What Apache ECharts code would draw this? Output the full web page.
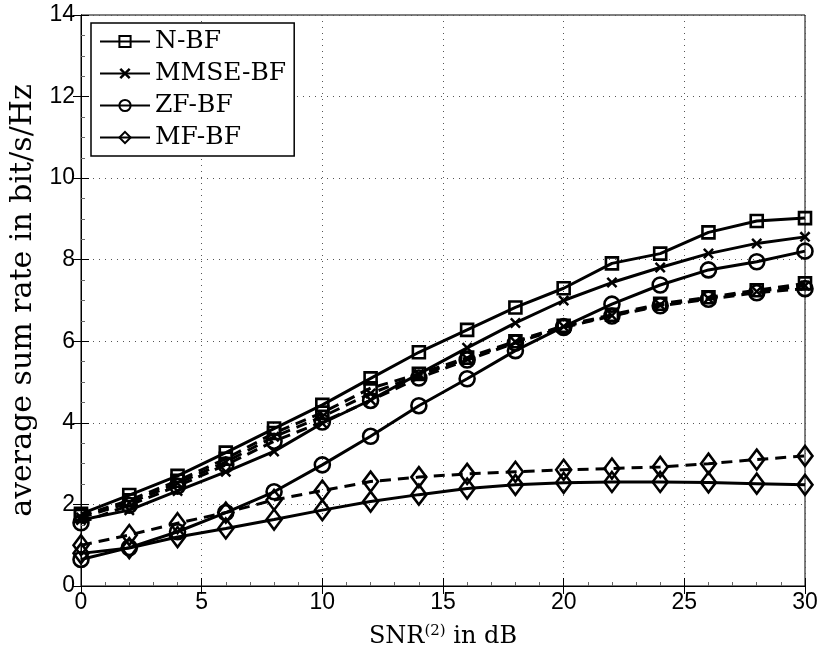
<!DOCTYPE html>
<html>
<head>
<meta charset="utf-8">
<title>average sum rate</title>
<script src="https://cdn.jsdelivr.net/npm/echarts@6/dist/echarts.min.js"></script>
<style>
  html, body { margin: 0; padding: 0; background: #fff; }
  #chart { width: 821px; height: 655px; }
</style>
</head>
<body>
<div id="chart"></div>
<script>
// SNR in dB
var snr = [0, 2, 4, 6, 8, 10, 12, 14, 16, 18, 20, 22, 24, 26, 28, 30];

// solid curves
var nbf = [1.77, 2.23, 2.70, 3.27, 3.86, 4.44, 5.09, 5.73, 6.28, 6.83, 7.30, 7.91, 8.15, 8.67, 8.95, 9.02];
var mmse = [1.62, 1.86, 2.33, 2.80, 3.30, 3.99, 4.56, 5.20, 5.84, 6.45, 7.00, 7.44, 7.81, 8.15, 8.40, 8.56];
var zf = [0.65, 0.94, 1.33, 1.80, 2.31, 2.97, 3.67, 4.42, 5.08, 5.77, 6.36, 6.91, 7.38, 7.75, 7.95, 8.21];
var mf = [0.80, 0.93, 1.20, 1.41, 1.63, 1.86, 2.07, 2.24, 2.39, 2.48, 2.53, 2.55, 2.55, 2.54, 2.51, 2.48];

// dashed curves
var nbfD = [1.72, 2.10, 2.58, 3.12, 3.75, 4.25, 4.85, 5.20, 5.60, 6.00, 6.38, 6.65, 6.92, 7.08, 7.25, 7.42];
var mmseD = [1.68, 2.04, 2.52, 3.04, 3.66, 4.15, 4.72, 5.17, 5.57, 5.98, 6.36, 6.63, 6.89, 7.05, 7.22, 7.36];
var zfD = [1.55, 1.98, 2.45, 2.97, 3.55, 4.02, 4.55, 5.10, 5.54, 5.96, 6.34, 6.62, 6.87, 7.03, 7.19, 7.29];
var mfD = [1.00, 1.25, 1.54, 1.80, 2.11, 2.34, 2.56, 2.67, 2.75, 2.80, 2.85, 2.88, 2.92, 3.00, 3.10, 3.19];

var names = ['N-BF', 'MMSE-BF', 'ZF-BF', 'MF-BF'];

var crossPath = 'path://M0,1.6 L1.6,0 L5,3.4 L8.4,0 L10,1.6 L6.6,5 L10,8.4 L8.4,10 L5,6.6 L1.6,10 L0,8.4 L3.4,5 Z';
var marks = [
    { symbol: 'rect', size: 12, fill: 'none' },
    { symbol: crossPath, size: 11, fill: '#000' },
    { symbol: 'circle', size: 15, fill: 'none' },
    { symbol: 'diamond', size: [15, 20], fill: 'none' }
];

function zip(ys) {
    return snr.map(function (x, i) { return [x, ys[i]]; });
}

function makeSeries(name, ys, k, dashed) {
    return {
        name: name,
        type: 'line',
        data: zip(ys),
        symbol: marks[k].symbol,
        symbolSize: marks[k].size,
        showAllSymbol: true,
        animation: false,
        z: dashed ? 2 : 3,
        lineStyle: { color: '#000', width: 3, type: dashed ? [11, 7] : 'solid' },
        itemStyle: { color: marks[k].fill, borderColor: '#000', borderWidth: marks[k].fill === 'none' ? 2.6 : 0 },
        emphasis: { disabled: true }
    };
}

var solid = [nbf, mmse, zf, mf];
var dashed = [nbfD, mmseD, zfD, mfD];
var series = [];
for (var k = 0; k < 4; k++) {
    series.push(makeSeries(names[k] + ' (dashed)', dashed[k], k, true));
}
for (var k = 0; k < 4; k++) {
    series.push(makeSeries(names[k], solid[k], k, false));
}

var tickFont = { fontFamily: 'Liberation Sans', fontSize: 23, color: '#000' };
var serif = 'DejaVu Serif';

var myChart = echarts.init(document.getElementById('chart'));
var option = {
    backgroundColor: '#fff',
    animation: false,
    grid: { left: 81, right: 16, top: 15, bottom: 69, show: true, borderColor: '#000', borderWidth: 1 },
    legend: {
        data: names,
        orient: 'vertical',
        left: 91,
        top: 23,
        itemWidth: 50,
        itemHeight: 14,
        itemGap: 7,
        padding: [6, 8, 6, 8],
        backgroundColor: '#fff',
        borderColor: '#000',
        borderWidth: 1.5,
        selectedMode: false,
        textStyle: { fontFamily: serif, fontSize: 25, color: '#000' }
    },
    xAxis: [{
        type: 'value', min: 0, max: 30, interval: 5,
        name: 'SNR{sup|(2)} in dB',
        nameLocation: 'middle', nameGap: 38,
        nameTextStyle: {
            fontFamily: serif, fontSize: 24, color: '#000',
            rich: { sup: { fontFamily: serif, fontSize: 15, verticalAlign: 'top', padding: [0, 0, 10, 0], color: '#000' } }
        },
        axisLine: { lineStyle: { color: '#000', width: 1 } },
        axisTick: { inside: true, length: 8, lineStyle: { color: '#000' } },
        minorTick: { show: true, splitNumber: 5, length: 4, lineStyle: { color: '#666' } },
        axisLabel: Object.assign({ margin: 5 }, tickFont),
        splitLine: { show: true, lineStyle: { color: '#555', type: [1, 5], width: 1 } }
    }, {
        type: 'value', min: 0, max: 30, interval: 5, position: 'top',
        axisLine: { lineStyle: { color: '#000' } },
        axisTick: { inside: true, length: 8, lineStyle: { color: '#000' } },
        axisLabel: { show: false },
        splitLine: { show: false }
    }],
    yAxis: [{
        type: 'value', min: 0, max: 14, interval: 2,
        name: 'average sum rate in bit/s/Hz',
        nameLocation: 'middle', nameGap: 41,
        nameTextStyle: { fontFamily: serif, fontSize: 30, color: '#000' },
        axisLine: { lineStyle: { color: '#000', width: 1 } },
        axisTick: { inside: true, length: 8, lineStyle: { color: '#000' } },
        minorTick: { show: true, splitNumber: 4, length: 4, lineStyle: { color: '#666' } },
        axisLabel: Object.assign({ margin: 6 }, tickFont),
        splitLine: { show: true, lineStyle: { color: '#555', type: [1, 5], width: 1 } }
    }, {
        type: 'value', min: 0, max: 14, interval: 2, position: 'right',
        axisLine: { lineStyle: { color: '#000' } },
        axisTick: { inside: true, length: 8, lineStyle: { color: '#000' } },
        axisLabel: { show: false },
        splitLine: { show: false }
    }],
    series: series
};
myChart.setOption(option);
window.addEventListener('resize', function () {
    myChart.resize();
});
</script>
</body>
</html>
